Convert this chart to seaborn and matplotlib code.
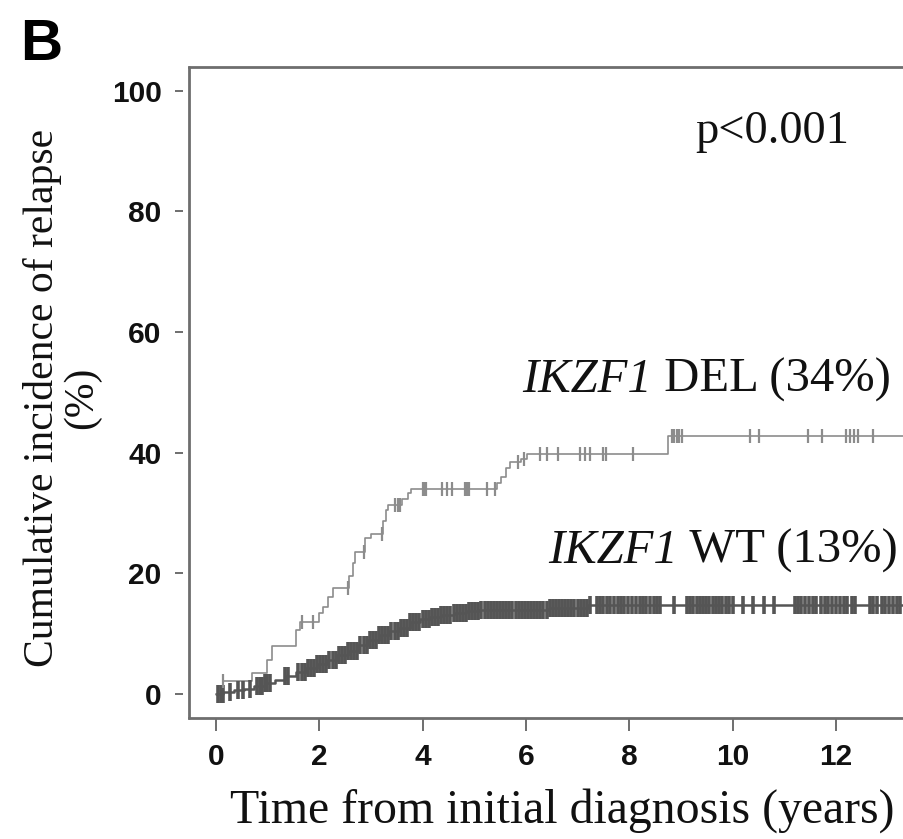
import numpy as np
import pandas as pd
import matplotlib
matplotlib.use("Agg")
import matplotlib.pyplot as plt
from matplotlib.lines import Line2D
import seaborn as sns

# ---------------- data ----------------
del_time = [0, 0.14, 0.70, 0.99, 1.08, 1.55, 1.64, 2.00, 2.08, 2.17, 2.27, 2.58, 2.65,
            2.70, 2.88, 3.00, 3.24, 3.29, 3.34, 3.60, 3.72, 3.78, 5.45, 5.52, 5.62,
            5.70, 5.90, 6.02, 8.75, 13.6]
del_cum = [0, 2.2, 3.4, 5.6, 8.0, 10.6, 12.0, 13.4, 14.5, 16.1, 17.6, 19.5, 21.7,
           23.6, 25.8, 26.5, 28.6, 30.5, 31.3, 32.3, 33.3, 34.0, 35.0, 36.0, 37.4,
           38.4, 38.9, 39.8, 42.7, 42.7]
del_censor = [0.14, 1.66, 1.89, 2.56, 2.86, 3.21, 3.46, 3.52, 3.57, 4.00, 4.03, 4.06,
              4.38, 4.48, 4.58, 4.82, 4.86, 4.90, 5.24, 5.40, 5.84, 5.97, 6.27, 6.40,
              6.63, 7.05, 7.14, 7.24, 7.50, 7.55, 8.07, 8.82, 8.87, 8.92, 8.97, 9.02,
              10.34, 10.50, 11.46, 11.72, 12.20, 12.27, 12.35, 12.43, 12.72]

wt_time = [0, 0.15, 0.35, 0.55, 0.75, 0.95, 1.15, 1.35, 1.55, 1.75, 1.95, 2.15, 2.35,
           2.55, 2.75, 2.95, 3.15, 3.35, 3.55, 3.75, 3.95, 4.15, 4.35, 4.60, 4.85,
           5.10, 5.50, 6.45, 7.20, 13.6]
wt_cum = [0, 0.3, 0.6, 0.9, 1.3, 1.8, 2.4, 3.0, 3.6, 4.3, 4.9, 5.6, 6.4,
          7.2, 8.1, 8.9, 9.7, 10.4, 11.0, 11.9, 12.4, 12.8, 13.1, 13.4, 13.7,
          13.9, 14.0, 14.3, 14.8, 14.8]
wt_censor = [0.04, 0.10, 0.14, 0.28, 0.43, 0.53, 0.67, 0.80, 0.85, 0.90, 0.95, 1.00,
             1.05, 1.35, 1.40, 1.60, 1.66, 1.72, 1.78, 1.84, 1.90, 1.96, 2.02, 2.08,
             2.14, 2.20, 2.26, 2.32, 2.38, 2.44, 2.50, 2.56, 2.62, 2.68, 2.74, 2.80,
             2.86, 2.92, 2.98, 3.04, 3.10, 3.16, 3.22, 3.28, 3.34, 3.40, 3.46, 3.52,
             3.58, 3.64, 3.70, 3.76, 3.82, 3.88, 3.94, 4.00, 4.06, 4.12, 4.18, 4.24,
             4.30, 4.36, 4.42, 4.48, 4.54, 4.60, 4.66, 4.72, 4.78, 4.84, 4.90, 4.96,
             5.02, 5.08, 5.14, 5.20, 5.26, 5.32, 5.38, 5.44, 5.50, 5.56, 5.62, 5.68,
             5.74, 5.80, 5.86, 5.92, 5.98, 6.04, 6.10, 6.16, 6.22, 6.28, 6.34, 6.40,
             6.46, 6.52, 6.58, 6.64, 6.70, 6.76, 6.82, 6.88, 6.94, 7.00, 7.06, 7.12,
             7.18, 7.24, 7.37, 7.43, 7.50, 7.56, 7.62, 7.70, 7.78, 7.84, 7.90, 7.98,
             8.05, 8.12, 8.20, 8.26, 8.33, 8.40, 8.47, 8.53, 8.60, 8.86, 9.11, 9.17,
             9.23, 9.30, 9.36, 9.42, 9.48, 9.55, 9.61, 9.67, 9.74, 9.80, 9.87, 9.93,
             10.00, 10.20, 10.40, 10.60, 10.80, 11.20, 11.27, 11.33, 11.40, 11.47,
             11.55, 11.62, 11.70, 11.78, 11.85, 11.92, 12.00, 12.07, 12.15, 12.22,
             12.30, 12.37, 12.66, 12.72, 12.80, 12.88, 12.95, 13.02, 13.10, 13.17,
             13.24]

x_ticks = [0, 2, 4, 6, 8, 10, 12]
y_ticks = [0, 20, 40, 60, 80, 100]
gene = "IKZF1"
label_del_rest = " DEL (34%)"
label_wt_rest = " WT (13%)"
p_text = "p<0.001"
x_title = "Time from initial diagnosis (years)"
y_title_1 = "Cumulative incidence of relapse"
y_title_2 = "(%)"
panel = "B"


def step_value(times, values, t):
    idx = np.searchsorted(times, t, side="right") - 1
    return np.asarray(values)[idx]


curves = pd.concat([
    pd.DataFrame({"time": del_time, "cum": del_cum, "group": "DEL"}),
    pd.DataFrame({"time": wt_time, "cum": wt_cum, "group": "WT"}),
])
cens = pd.concat([
    pd.DataFrame({"time": del_censor,
                  "cum": step_value(del_time, del_cum, del_censor), "group": "DEL"}),
    pd.DataFrame({"time": wt_censor,
                  "cum": step_value(wt_time, wt_cum, wt_censor), "group": "WT"}),
])

# ---------------- style ----------------
sns.set_theme(style="white")
plt.rcParams["font.family"] = ["Liberation Serif", "DejaVu Serif"]

W, H = 904, 839
fig = plt.figure(figsize=(W / 100, H / 100), dpi=100)
fig.patch.set_facecolor("white")

left_px, right_px, top_px, bottom_px = 189.5, 919.0, 67.3, 718.3
ax = fig.add_axes([left_px / W, 1 - bottom_px / H,
                   (right_px - left_px) / W, (bottom_px - top_px) / H])

col_del = "#8c8c8c"
col_wt = "#555555"
spine_col = "#6e6e6e"
txt_col = "#111111"

sub = curves[curves.group == "WT"]
sns.lineplot(data=sub, x="time", y="cum", ax=ax, estimator=None, sort=False,
             drawstyle="steps-post", color=col_wt, linewidth=1.8, legend=False)
sub = curves[curves.group == "DEL"]
sns.lineplot(data=sub, x="time", y="cum", ax=ax, estimator=None, sort=False,
             drawstyle="steps-post", color=col_del, linewidth=1.2, legend=False)

sub = cens[cens.group == "WT"]
sns.scatterplot(data=sub, x="time", y="cum", ax=ax, marker="|", s=160,
                linewidth=2.6, color=col_wt, legend=False, zorder=3)
sub = cens[cens.group == "DEL"]
sns.scatterplot(data=sub, x="time", y="cum", ax=ax, marker="|", s=110,
                linewidth=1.6, color=col_del, legend=False, zorder=3)

x0 = (left_px - 215.7) / 51.7
x1 = (right_px - 215.7) / 51.7
ax.set_xlim(x0, x1)
ax.set_ylim(-4.03, 103.9)
ax.set_xlabel("")
ax.set_ylabel("")

# spines (set positions before tick labels so label fonts are kept)
for s in ["top", "bottom"]:
    ax.spines[s].set_color(spine_col)
    ax.spines[s].set_linewidth(2.0)
ax.spines["right"].set_visible(False)
ax.spines["left"].set_position(("outward", 5))
ax.spines["left"].set_visible(False)
ax.add_line(Line2D([0, 0], [0, 1], transform=ax.transAxes, color=spine_col,
                   linewidth=2.0, clip_on=False))

ax.set_xticks(x_ticks)
ax.set_yticks(y_ticks)
ax.set_xticklabels([str(v) for v in x_ticks])
ax.set_yticklabels([str(v) for v in y_ticks])
ax.tick_params(axis="x", direction="out", length=9, width=1.4, color=spine_col,
               pad=9, bottom=True, labelcolor=txt_col)
ax.tick_params(axis="y", direction="out", length=6, width=1.4, color=spine_col,
               pad=9, left=True, labelcolor=txt_col)
for lab in ax.get_xticklabels() + ax.get_yticklabels():
    lab.set_family(["Liberation Sans", "DejaVu Sans"])
    lab.set_weight("bold")
    lab.set_size(21.5)

# annotations: italic gene name + roman rest
rest_del = ax.text(13.05, 50.1, label_del_rest, ha="right", va="baseline",
                   fontsize=35, color=txt_col)
ax.annotate(gene, xy=(0, 0), xycoords=rest_del, ha="right", va="bottom",
            fontsize=35, fontstyle="italic", color=txt_col)
rest_wt = ax.text(13.19, 21.7, label_wt_rest, ha="right", va="baseline",
                  fontsize=35, color=txt_col)
ax.annotate(gene, xy=(0, 0), xycoords=rest_wt, ha="right", va="bottom",
            fontsize=35, fontstyle="italic", color=txt_col)
ax.text(9.27, 91.4, p_text, ha="left", va="baseline", fontsize=33.5, color=txt_col)

fig.text(562 / W, 1 - 823 / H, x_title, ha="center", va="baseline",
         fontsize=34.4, color=txt_col)
fig.text(43 / W, 1 - 398 / H, y_title_1, ha="center", va="center", rotation=90,
         fontsize=30, color=txt_col)
fig.text(82 / W, 1 - 398 / H, y_title_2, ha="center", va="center", rotation=90,
         fontsize=30, color=txt_col)
fig.text(20 / W, 1 - 60 / H, panel, ha="left", va="baseline", fontsize=42,
         fontweight="bold", family=["Liberation Sans", "DejaVu Sans"], color="#000000")

fig.savefig("out.png", dpi=100, facecolor="white")
